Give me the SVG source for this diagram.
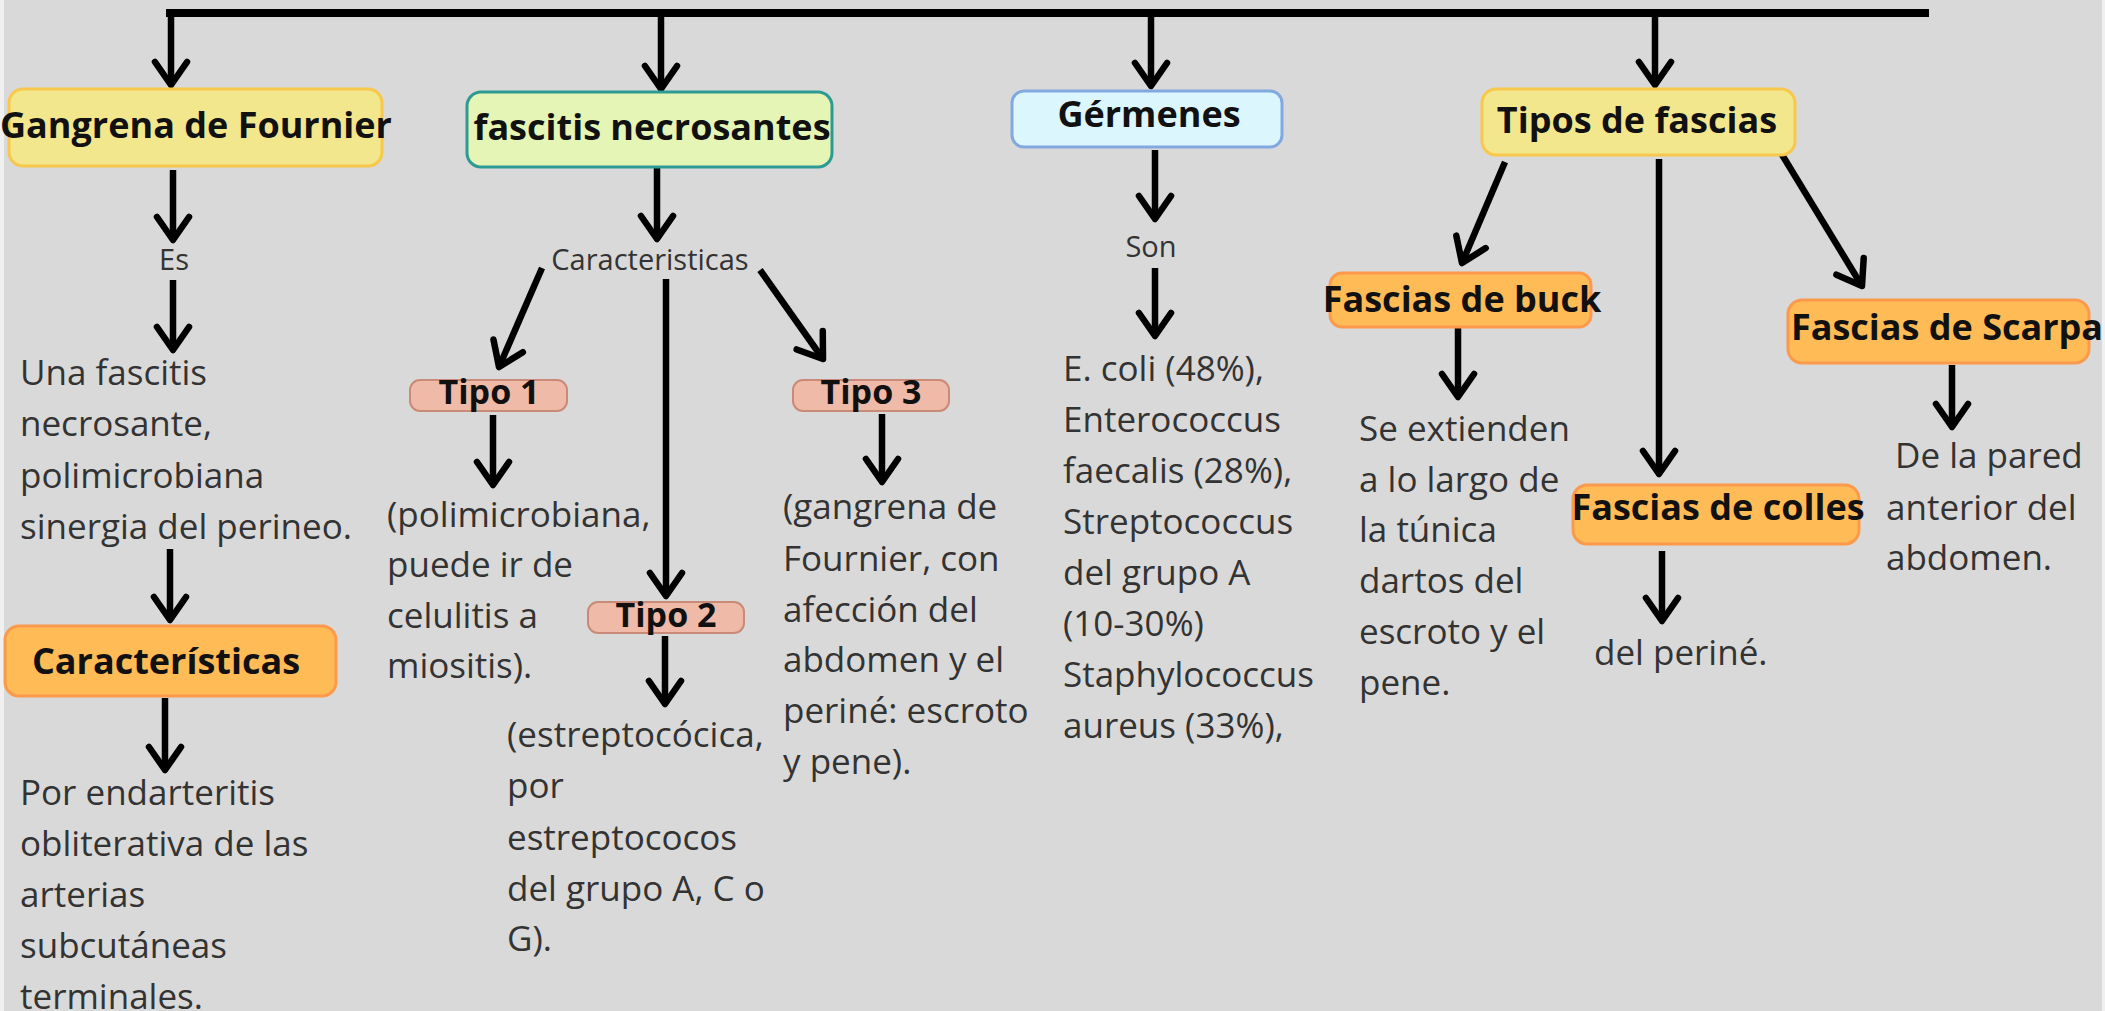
<svg xmlns="http://www.w3.org/2000/svg" width="2105" height="1011" viewBox="0 0 2105 1011">
<defs>
<style>
.bg{fill:#d9d9d9}
.edge{fill:#f0f0f0}
.n{font-family:"Open Sans","Liberation Sans",sans-serif;font-weight:700;font-size:36px;fill:#111;text-anchor:middle}
.t{font-family:"Open Sans","Liberation Sans",sans-serif;font-weight:700;font-size:34px;fill:#111;text-anchor:middle}
.b{font-family:"Open Sans","Liberation Sans",sans-serif;font-size:35px;fill:#333}
.l{font-family:"Open Sans","Liberation Sans",sans-serif;font-size:29px;fill:#333;text-anchor:middle}
.yel{fill:#f3e78e;stroke:#f8c84c;stroke-width:3}
.grn{fill:#e4f5b5;stroke:#2e9a94;stroke-width:3}
.blu{fill:#dcf6fe;stroke:#82a8e0;stroke-width:3}
.org{fill:#ffbb56;stroke:#fb9a4c;stroke-width:3}
.sal{fill:#efbaa8;stroke:#c98b78;stroke-width:2}
.c{stroke:#000;stroke-width:6.5;fill:none;marker-end:url(#ah)}
</style>
<marker id="ah" markerUnits="userSpaceOnUse" markerWidth="60" markerHeight="60" viewBox="-40 -30 50 60" refX="0" refY="0" orient="auto" overflow="visible">
<path d="M-23,-16 L0,0 L-23,16" fill="none" stroke="#000" stroke-width="6.5" stroke-linecap="round" stroke-linejoin="round"/>
</marker>
</defs>
<rect class="bg" x="0" y="0" width="2105" height="1011"/>
<rect class="edge" x="0" y="0" width="4" height="1011"/>
<rect class="edge" x="2102" y="0" width="3" height="1011"/>

<g id="connectors">
<line x1="166" y1="13" x2="1929" y2="13" stroke="#000" stroke-width="8"/>
<line class="c" x1="171" y1="13" x2="171" y2="85"/>
<line class="c" x1="661" y1="13" x2="661" y2="89"/>
<line class="c" x1="1151" y1="13" x2="1151" y2="86"/>
<line class="c" x1="1655" y1="13" x2="1655" y2="85"/>
<line class="c" x1="173" y1="170" x2="173" y2="240"/>
<line class="c" x1="173" y1="280" x2="173" y2="350"/>
<line class="c" x1="170" y1="549" x2="170" y2="620"/>
<line class="c" x1="165" y1="698" x2="165" y2="770"/>
<line class="c" x1="657" y1="167" x2="657" y2="239"/>
<line class="c" x1="542" y1="268" x2="499" y2="367"/>
<line class="c" x1="760" y1="270" x2="823" y2="359"/>
<line class="c" x1="666" y1="279" x2="666" y2="596"/>
<line class="c" x1="493" y1="415" x2="493" y2="485"/>
<line class="c" x1="882" y1="414" x2="882" y2="482"/>
<line class="c" x1="665" y1="636" x2="665" y2="704"/>
<line class="c" x1="1155" y1="150" x2="1155" y2="219"/>
<line class="c" x1="1155" y1="268" x2="1155" y2="336"/>
<line class="c" x1="1505" y1="162" x2="1462" y2="263"/>
<line class="c" x1="1659" y1="159" x2="1659" y2="474"/>
<line class="c" x1="1781" y1="153" x2="1862" y2="286"/>
<line class="c" x1="1458" y1="328" x2="1458" y2="397"/>
<line class="c" x1="1952" y1="365" x2="1952" y2="427"/>
<line class="c" x1="1662" y1="551" x2="1662" y2="621"/>
</g>

<g id="gangrena">
<rect class="yel" x="9" y="89" width="373" height="77" rx="14"/>
<text class="n" x="196" y="138">Gangrena de Fournier</text>
</g>
<g id="es"><text class="l" x="174" y="270">Es</text></g>
<g id="una-fascitis">
<text class="b" x="20" y="385">Una fascitis</text>
<text class="b" x="20" y="436">necrosante,</text>
<text class="b" x="20" y="488">polimicrobiana</text>
<text class="b" x="20" y="539">sinergia del perineo.</text>
</g>
<g id="caracteristicas-1">
<rect class="org" x="5" y="626" width="331" height="70" rx="14"/>
<text class="n" x="166" y="674">Características</text>
</g>
<g id="endarteritis">
<text class="b" x="20" y="805">Por endarteritis</text>
<text class="b" x="20" y="856">obliterativa de las</text>
<text class="b" x="20" y="907">arterias</text>
<text class="b" x="20" y="958">subcutáneas</text>
<text class="b" x="20" y="1009">terminales.</text>
</g>

<g id="fascitis">
<rect class="grn" x="467" y="92" width="365" height="75" rx="14"/>
<text class="n" x="652" y="140">fascitis necrosantes</text>
</g>
<g id="caracteristicas-2"><text class="l" x="650" y="270">Caracteristicas</text></g>
<g id="tipo1">
<rect class="sal" x="410" y="380" width="157" height="31" rx="10"/>
<text class="t" x="489" y="404">Tipo 1</text>
</g>
<g id="tipo3">
<rect class="sal" x="793" y="380" width="156" height="31" rx="10"/>
<text class="t" x="871" y="404">Tipo 3</text>
</g>
<g id="tipo2">
<rect class="sal" x="588" y="602" width="156" height="31" rx="10"/>
<text class="t" x="666" y="627">Tipo 2</text>
</g>
<g id="tipo1-text">
<text class="b" x="387" y="527">(polimicrobiana,</text>
<text class="b" x="387" y="577">puede ir de</text>
<text class="b" x="387" y="628">celulitis a</text>
<text class="b" x="387" y="678">miositis).</text>
</g>
<g id="tipo2-text">
<text class="b" x="507" y="747">(estreptocócica,</text>
<text class="b" x="507" y="798">por</text>
<text class="b" x="507" y="850">estreptococos</text>
<text class="b" x="507" y="901">del grupo A, C o</text>
<text class="b" x="507" y="951">G).</text>
</g>
<g id="tipo3-text">
<text class="b" x="783" y="519">(gangrena de</text>
<text class="b" x="783" y="571">Fournier, con</text>
<text class="b" x="783" y="622">afección del</text>
<text class="b" x="783" y="672">abdomen y el</text>
<text class="b" x="783" y="723">periné: escroto</text>
<text class="b" x="783" y="774">y pene).</text>
</g>

<g id="germenes">
<rect class="blu" x="1012" y="91" width="270" height="56" rx="12"/>
<text class="n" x="1149" y="127">Gérmenes</text>
</g>
<g id="son"><text class="l" x="1151" y="257">Son</text></g>
<g id="germenes-text">
<text class="b" x="1063" y="381">E. coli (48%),</text>
<text class="b" x="1063" y="432">Enterococcus</text>
<text class="b" x="1063" y="483">faecalis (28%),</text>
<text class="b" x="1063" y="534">Streptococcus</text>
<text class="b" x="1063" y="585">del grupo A</text>
<text class="b" x="1063" y="636">(10-30%)</text>
<text class="b" x="1063" y="687">Staphylococcus</text>
<text class="b" x="1063" y="738">aureus (33%),</text>
</g>

<g id="tipos-fascias">
<rect class="yel" x="1482" y="89" width="313" height="66" rx="14"/>
<text class="n" x="1637" y="133">Tipos de fascias</text>
</g>
<g id="buck">
<rect class="org" x="1330" y="273" width="261" height="54" rx="12"/>
<text class="n" x="1462" y="312">Fascias de buck</text>
</g>
<g id="buck-text">
<text class="b" x="1359" y="441">Se extienden</text>
<text class="b" x="1359" y="492">a lo largo de</text>
<text class="b" x="1359" y="542">la túnica</text>
<text class="b" x="1359" y="593">dartos del</text>
<text class="b" x="1359" y="644">escroto y el</text>
<text class="b" x="1359" y="695">pene.</text>
</g>
<g id="scarpa">
<rect class="org" x="1788" y="300" width="301" height="63" rx="14"/>
<text class="n" x="1947" y="340">Fascias de Scarpa</text>
</g>
<g id="scarpa-text">
<text class="b" x="1895" y="468">De la pared</text>
<text class="b" x="1886" y="520">anterior del</text>
<text class="b" x="1886" y="570">abdomen.</text>
</g>
<g id="colles">
<rect class="org" x="1573" y="485" width="286" height="59" rx="14"/>
<text class="n" x="1718" y="520">Fascias de colles</text>
</g>
<g id="colles-text">
<text class="b" x="1594" y="665">del periné.</text>
</g>
</svg>
